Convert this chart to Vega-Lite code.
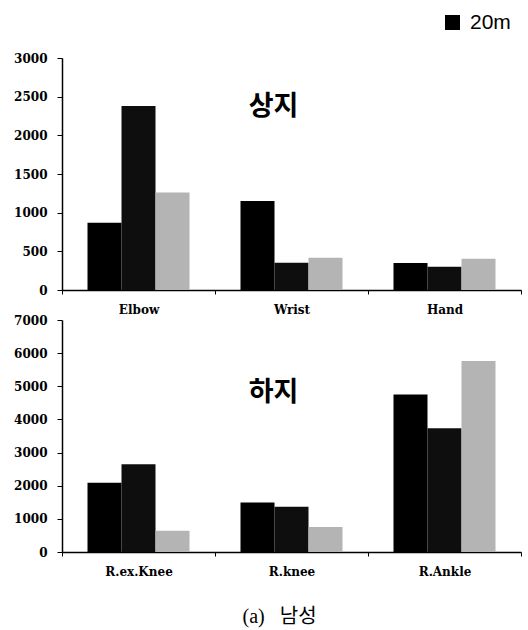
{
  "$schema": "https://vega.github.io/schema/vega-lite/v6.json",
  "background": "white",
  "padding": {"left": 13, "top": 12, "right": 5, "bottom": 5},
  "config": {
    "view": {"stroke": null},
    "font": "DejaVu Serif",
    "axis": {
      "grid": false,
      "domainColor": "#000000",
      "domainWidth": 1.5,
      "tickColor": "#000000",
      "labelColor": "#000000",
      "labelFont": "DejaVu Serif",
      "labelFontWeight": "bold",
      "title": null
    }
  },
  "bounds": "flush",
  "spacing": 30,
  "title": {
    "text": "(a)\u00a0\u00a0\u00a0남성",
    "orient": "bottom",
    "anchor": "middle",
    "dx": 12,
    "offset": 30,
    "font": "Liberation Serif, Noto Sans CJK KR",
    "fontSize": 20,
    "fontWeight": "normal",
    "color": "#000000"
  },
  "resolve": {"scale": {"x": "independent", "y": "independent", "color": "shared"}},
  "vconcat": [
    {
      "width": 459,
      "height": 232,
      "data": {"values": [
        {"joint": "Elbow", "series": "20m", "value": 870},
        {"joint": "Elbow", "series": "40m", "value": 2380},
        {"joint": "Elbow", "series": "60m", "value": 1260},
        {"joint": "Wrist", "series": "20m", "value": 1150},
        {"joint": "Wrist", "series": "40m", "value": 353},
        {"joint": "Wrist", "series": "60m", "value": 417},
        {"joint": "Hand", "series": "20m", "value": 349},
        {"joint": "Hand", "series": "40m", "value": 301},
        {"joint": "Hand", "series": "60m", "value": 405}
      ]},
      "encoding": {
        "x": {"field": "joint", "type": "nominal",
              "scale": {"domain": ["Elbow", "Wrist", "Hand"], "paddingInner": 0, "paddingOuter": 0},
              "axis": {"labelAngle": 0, "tickBand": "extent", "tickSize": 4, "labelPadding": 10, "labelFontSize": 12}},
        "y": {"field": "value", "type": "quantitative",
              "scale": {"domain": [0, 3000], "nice": false},
              "axis": {"values": [0, 500, 1000, 1500, 2000, 2500, 3000], "format": "d", "tickSize": 5, "labelPadding": 10, "labelFontSize": 12}}
      },
      "layer": [
        {
          "mark": {"type": "bar"},
          "encoding": {
            "xOffset": {"field": "series", "type": "nominal", "sort": ["20m", "40m", "60m"],
                  "scale": {"paddingInner": 0, "paddingOuter": 0.75}},
            "color": {"field": "series", "type": "nominal",
                  "scale": {"domain": ["20m", "40m", "60m"], "range": ["#000000", "#0e0e0e", "#b4b4b4"]},
                  "legend": {"values": ["20m"], "orient": "none", "legendX": 380, "legendY": -46, "title": null,
                             "symbolType": "square", "symbolSize": 225, "symbolStrokeWidth": 0, "labelOffset": 7,
                             "labelFont": "Liberation Sans", "labelFontSize": 21, "labelColor": "#000000", "padding": 0}}
          }
        },
        {
          "data": {"values": [{"joint": "Wrist", "value": 2360, "label": "상지"}]},
          "mark": {"type": "text", "dx": -18, "font": "Noto Sans CJK KR", "fontSize": 27, "fontWeight": "bold", "color": "#000000", "baseline": "middle"},
          "encoding": {
            "text": {"field": "label"}
          }
        }
      ]
    },
    {
      "width": 459,
      "height": 232,
      "data": {"values": [
        {"joint": "R.ex.Knee", "series": "20m", "value": 2090},
        {"joint": "R.ex.Knee", "series": "40m", "value": 2650},
        {"joint": "R.ex.Knee", "series": "60m", "value": 643},
        {"joint": "R.knee", "series": "20m", "value": 1496},
        {"joint": "R.knee", "series": "40m", "value": 1366},
        {"joint": "R.knee", "series": "60m", "value": 753},
        {"joint": "R.Ankle", "series": "20m", "value": 4750},
        {"joint": "R.Ankle", "series": "40m", "value": 3735},
        {"joint": "R.Ankle", "series": "60m", "value": 5763}
      ]},
      "encoding": {
        "x": {"field": "joint", "type": "nominal",
              "scale": {"domain": ["R.ex.Knee", "R.knee", "R.Ankle"], "paddingInner": 0, "paddingOuter": 0},
              "axis": {"labelAngle": 0, "tickBand": "extent", "tickSize": 4, "labelPadding": 10, "labelFontSize": 12}},
        "y": {"field": "value", "type": "quantitative",
              "scale": {"domain": [0, 7000], "nice": false},
              "axis": {"values": [0, 1000, 2000, 3000, 4000, 5000, 6000, 7000], "format": "d", "tickSize": 5, "labelPadding": 10, "labelFontSize": 12}}
      },
      "layer": [
        {
          "mark": {"type": "bar"},
          "encoding": {
            "xOffset": {"field": "series", "type": "nominal", "sort": ["20m", "40m", "60m"],
                  "scale": {"paddingInner": 0, "paddingOuter": 0.75}},
            "color": {"field": "series", "type": "nominal",
                  "scale": {"domain": ["20m", "40m", "60m"], "range": ["#000000", "#0e0e0e", "#b4b4b4"]},
                  "legend": {"values": ["20m"], "orient": "none", "legendX": 380, "legendY": -46, "title": null,
                             "symbolType": "square", "symbolSize": 225, "symbolStrokeWidth": 0, "labelOffset": 7,
                             "labelFont": "Liberation Sans", "labelFontSize": 21, "labelColor": "#000000", "padding": 0}}
          }
        },
        {
          "data": {"values": [{"joint": "R.knee", "value": 4800, "label": "하지"}]},
          "mark": {"type": "text", "dx": -18, "font": "Noto Sans CJK KR", "fontSize": 27, "fontWeight": "bold", "color": "#000000", "baseline": "middle"},
          "encoding": {
            "text": {"field": "label"}
          }
        }
      ]
    }
  ]
}
